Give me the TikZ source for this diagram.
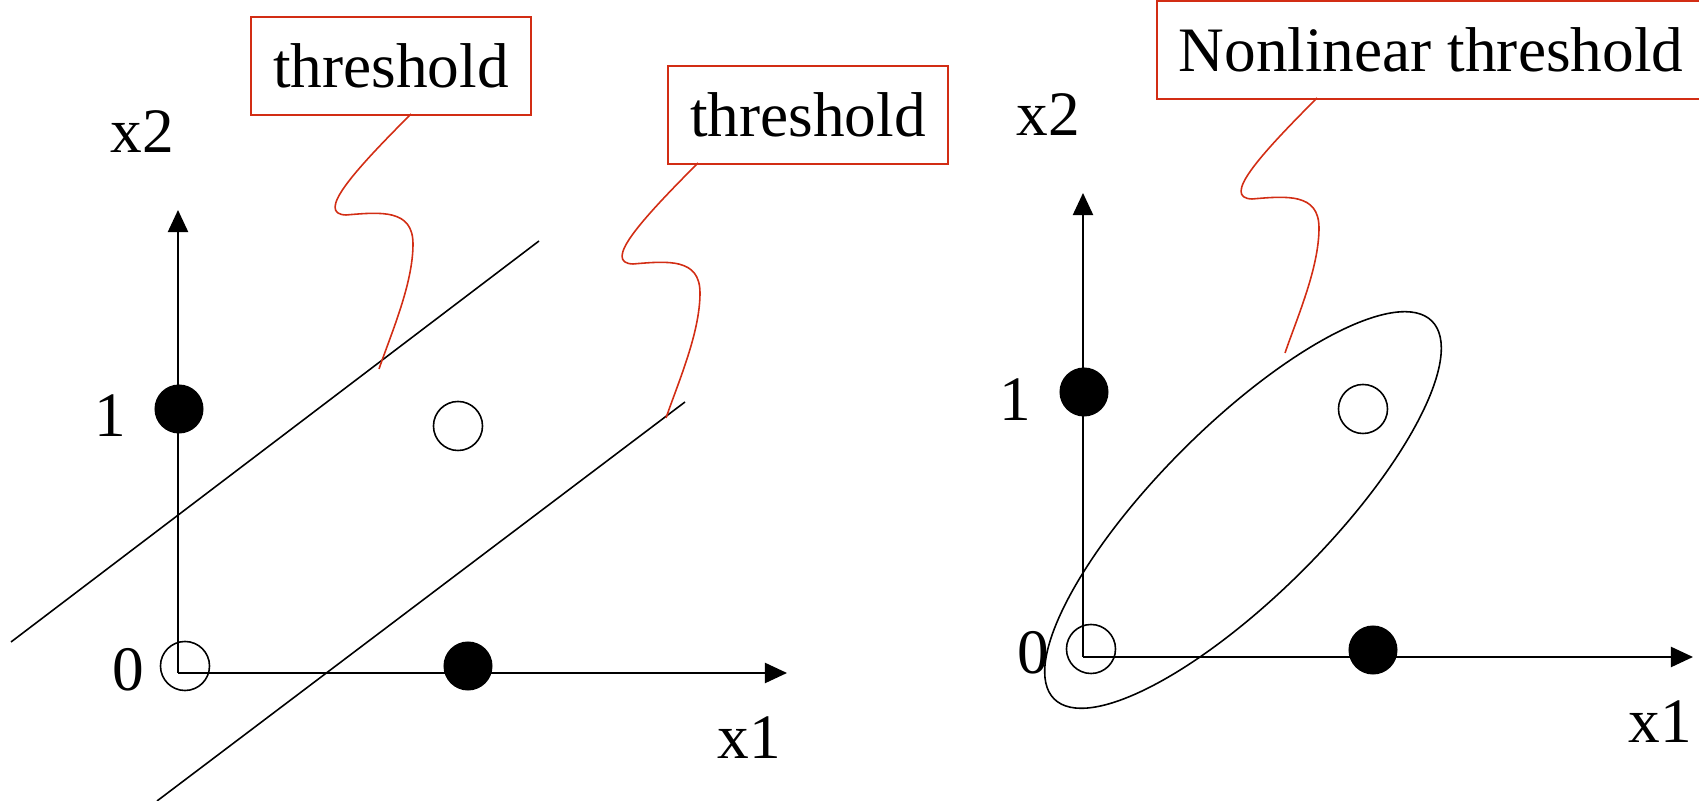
\documentclass[tikz,border=0pt]{standalone}
\usepackage{fontspec}
\setmainfont{Liberation Serif}
\usetikzlibrary{arrows.meta}
\definecolor{NoteRed}{RGB}{210,45,20}

\begin{document}
\begin{tikzpicture}[x=0.01cm,y=-0.01cm,font=\fontsize{18}{21.6}\selectfont,
  axis/.style={line width=0.6pt,-{Triangle[length=0.22cm,width=0.2cm]}},
  sepline/.style={line width=0.45pt},
  dotfull/.style={circle,fill=black,inner sep=0pt,minimum size=0.49cm},
  dotopen/.style={circle,draw=black,line width=0.45pt,inner sep=0pt,minimum size=0.49cm},
  notebox/.style={draw=NoteRed,line width=0.6pt,inner sep=0pt,minimum height=0.98cm},
  callout/.style={draw=NoteRed,line width=0.45pt}]
  \useasboundingbox (0,0) rectangle (1699,801);

  % left: two straight thresholds
  \coordinate (oL) at (178,673);
  \coordinate (xtipL) at (787,673);
  \coordinate (ytipL) at (178,210);
  \draw[axis] (oL) -- (xtipL);
  \draw[axis] (oL) -- (ytipL);
  \node (x2L) at (142,132) {x2};
  \node (x1L) at (749,738) {x1};
  \node (oneL) at (110,416) {1};
  \node (zeroL) at (128,670) {0};

  \node[dotfull] (p01L) at (179,409) {};
  \node[dotopen] (p11L) at (458,426) {};
  \node[dotopen] (p00L) at (185,666) {};
  \node[dotfull] (p10L) at (468,666) {};

  \coordinate (t1a) at (11,642);
  \coordinate (t1b) at (539,241);
  \coordinate (t2a) at (157,801);
  \coordinate (t2b) at (685,402);
  \draw[sepline] (t1a) -- (t1b);
  \draw[sepline] (t2a) -- (t2b);

  \node[notebox,minimum width=2.79cm] (note1) at (391,66) {threshold};
  \node[notebox,minimum width=2.80cm] (note2) at (808,115) {threshold};
  \coordinate (c1s) at (411,114);
  \coordinate (c2s) at (698,163);
  \draw[callout] (c1s) .. controls +(-60,60) and +(-30,-1) .. ++(-65,101)
    .. controls +(35,-3) and +(0,-35) .. ++(67,29)
    .. controls +(0,40) and +(12,-35) .. ++(-34,125);
  \draw[callout] (c2s) .. controls +(-60,60) and +(-30,-1) .. ++(-65,101)
    .. controls +(35,-3) and +(0,-35) .. ++(67,29)
    .. controls +(0,40) and +(12,-35) .. ++(-34,125);

  % right: nonlinear threshold
  \coordinate (oR) at (1083,657);
  \coordinate (xtipR) at (1693,657);
  \coordinate (ytipR) at (1083,193);
  \draw[axis] (oR) -- (xtipR);
  \draw[axis] (oR) -- (ytipR);
  \node (x2R) at (1048,115) {x2};
  \node (x1R) at (1660,722) {x1};
  \node (oneR) at (1015,400) {1};
  \node (zeroR) at (1033,653) {0};

  \node[dotfull] (p01R) at (1084,392) {};
  \node[dotopen] (p11R) at (1363,409) {};
  \node[dotopen] (p00R) at (1091,649) {};
  \node[dotfull] (p10R) at (1373,650) {};

  \coordinate (ec) at (1243,510);
  \draw[sepline,rotate around={45:(ec)}] (ec) ellipse [x radius=2.67cm,y radius=0.85cm];

  \node[notebox,minimum width=5.48cm] (note3) at (1431,50) {Nonlinear threshold};
  \coordinate (c3s) at (1317,98);
  \draw[callout] (c3s) .. controls +(-60,60) and +(-30,-1) .. ++(-65,101)
    .. controls +(35,-3) and +(0,-35) .. ++(67,29)
    .. controls +(0,40) and +(12,-35) .. ++(-34,125);
\end{tikzpicture}
\end{document}
